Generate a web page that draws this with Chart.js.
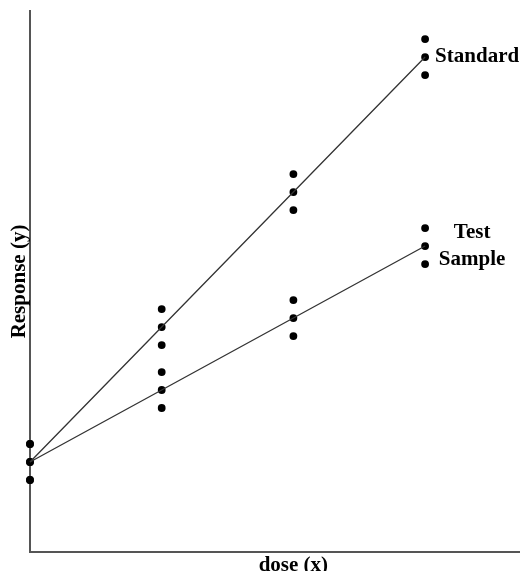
<!DOCTYPE html>
<html>
<head>
<meta charset="utf-8">
<script src="https://cdn.jsdelivr.net/npm/chart.js@4.4.1/dist/chart.umd.min.js"></script>
<style>
html,body{margin:0;padding:0;background:#fff;}
#wrap{width:523px;height:571px;position:relative;}
</style>
</head>
<body>
<div id="wrap"><canvas id="c" width="523" height="571"></canvas></div>
<script>
const doses = [0, 1, 2, 3];
const standardMid  = [5, 12.5, 20, 27.5];
const standardHigh = [6, 13.5, 21, 28.5];
const standardLow  = [4, 11.5, 19, 26.5];
const testMid  = [5, 9, 13, 17];
const testHigh = [6, 10, 14, 18];
const testLow  = [4, 8, 12, 16];
const axisTitles = { x: 'dose (x)', y: 'Response (y)' };
const seriesLabels = { standard: ['Standard'], test: ['Test', 'Sample'] };

const toPts = (ys) => doses.map((d, i) => ({ x: d, y: ys[i] }));
const FONT = 'bold 21px "Liberation Serif", "Times New Roman", serif';

const lineDs = (ys) => ({
  data: toPts(ys), showLine: true, pointRadius: 0, borderColor: '#333',
  borderWidth: 1.3, clip: false, fill: false
});
const dotDs = (ys) => ({
  data: toPts(ys), showLine: false, pointRadius: 3.9, pointBackgroundColor: '#000',
  pointBorderWidth: 0, borderColor: '#000', clip: false
});

const labelPlugin = {
  id: 'labels',
  afterDraw(chart) {
    const ctx = chart.ctx, xs = chart.scales.x, ys = chart.scales.y;
    ctx.save();
    ctx.font = FONT;
    ctx.fillStyle = '#000';
    const sx = xs.getPixelForValue(doses[3]), sy = ys.getPixelForValue(standardMid[3]);
    ctx.textAlign = 'left'; ctx.textBaseline = 'middle';
    ctx.fillText(seriesLabels.standard[0], sx + 10, sy);
    const tx = xs.getPixelForValue(doses[3]), ty = ys.getPixelForValue(testMid[3]);
    ctx.textAlign = 'center';
    ctx.fillText(seriesLabels.test[0], tx + 47, ty - 13);
    ctx.fillText(seriesLabels.test[1], tx + 47, ty + 14);
    ctx.textAlign = 'center'; ctx.textBaseline = 'alphabetic';
    ctx.fillText(axisTitles.x, xs.getPixelForValue(doses[2]), chart.height);
    ctx.translate(9, (chart.chartArea.top + chart.chartArea.bottom) / 2);
    ctx.rotate(-Math.PI / 2);
    ctx.textBaseline = 'top';
    ctx.fillText(axisTitles.y, 0, 0);
    ctx.restore();
  }
};

new Chart(document.getElementById('c'), {
  type: 'scatter',
  data: {
    datasets: [
      lineDs(standardMid), lineDs(testMid),
      dotDs(standardHigh), dotDs(standardMid), dotDs(standardLow),
      dotDs(testHigh), dotDs(testMid), dotDs(testLow)
    ]
  },
  options: {
    responsive: false,
    animation: false,
    layout: { padding: { left: 30, top: 11, right: 0, bottom: 19 } },
    plugins: { legend: { display: false }, tooltip: { enabled: false } },
    scales: {
      x: {
        type: 'linear', min: 0, max: 3.713,
        grid: { display: false, drawTicks: false },
        ticks: { display: false },
        border: { display: true, color: '#555', width: 2 }
      },
      y: {
        type: 'linear', min: 0, max: 30.06,
        grid: { display: false, drawTicks: false },
        ticks: { display: false },
        border: { display: true, color: '#555', width: 2 }
      }
    }
  },
  plugins: [labelPlugin]
});
</script>
</body>
</html>
